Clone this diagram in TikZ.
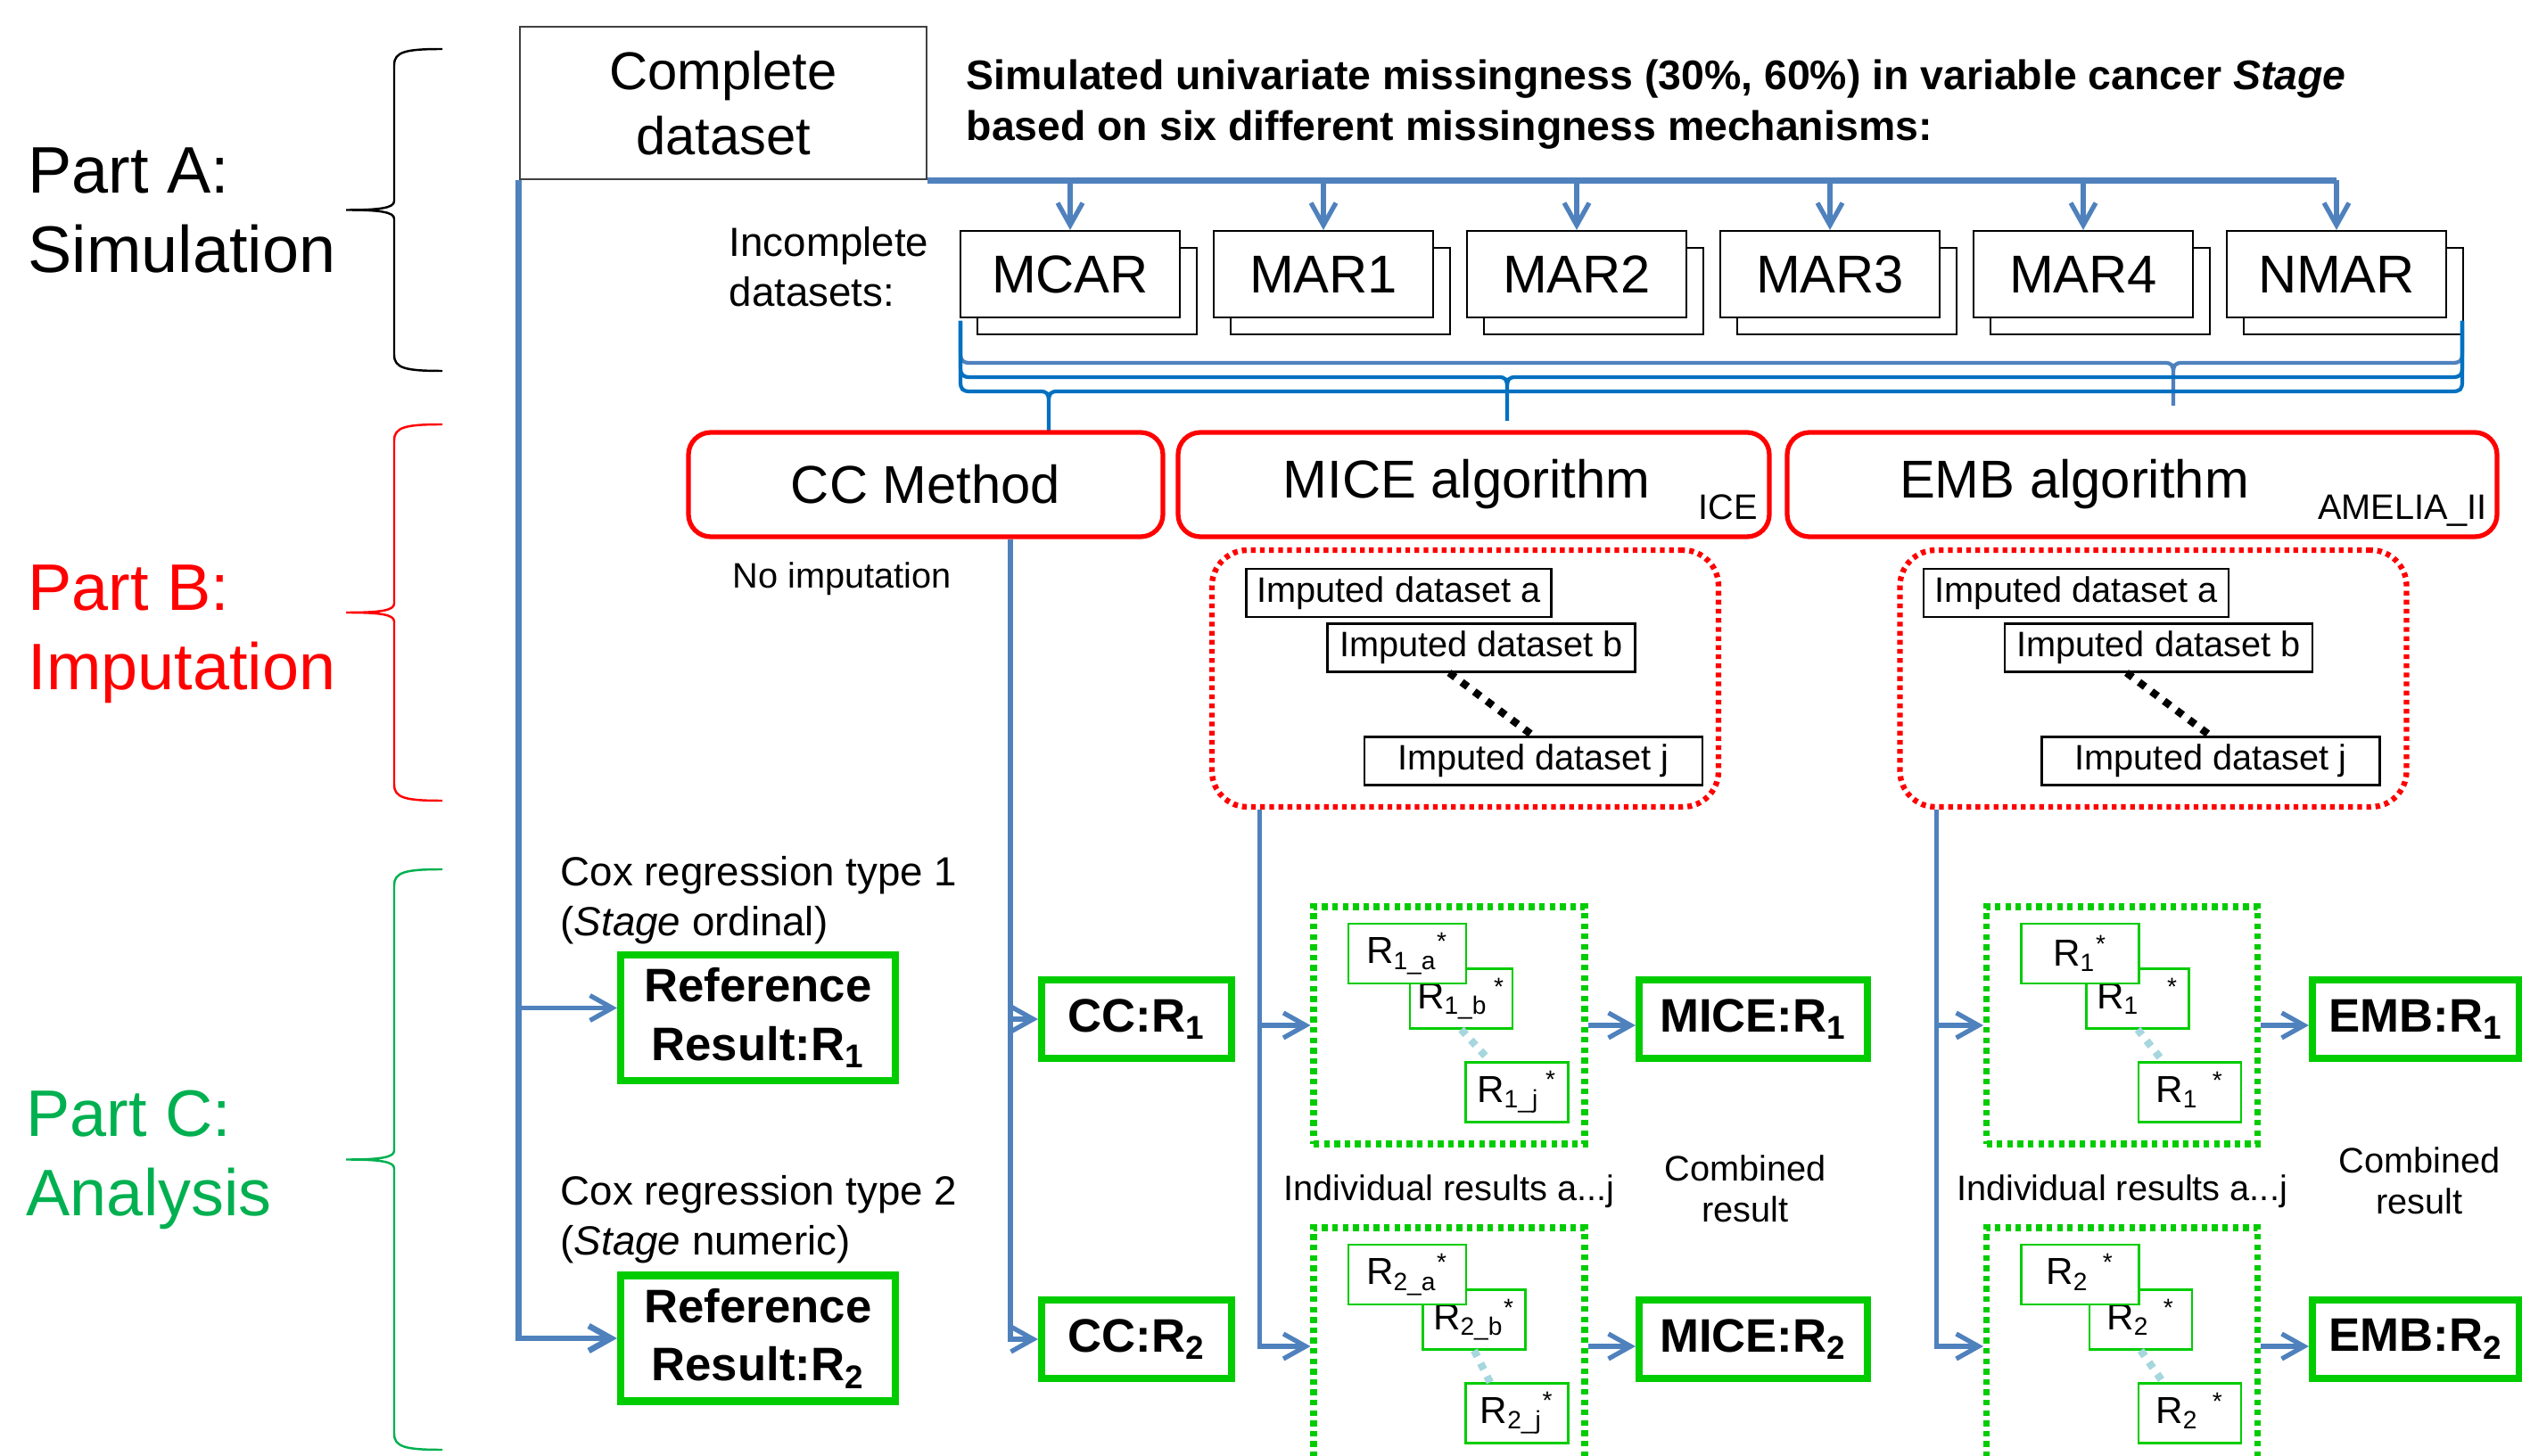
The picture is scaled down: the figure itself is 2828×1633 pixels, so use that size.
\documentclass[tikz,border=0pt]{standalone}
\usepackage{fontspec}
\setmainfont{Liberation Sans}
\usepackage{tikz}
\usetikzlibrary{arrows.meta,shadows,calc}
\definecolor{linkblue}{RGB}{79,129,189}
\definecolor{braceblue}{RGB}{0,112,192}
\definecolor{boxgreen}{RGB}{0,204,0}
\definecolor{partgreen}{RGB}{0,176,80}
\definecolor{dotcyan}{RGB}{166,214,222}

\begin{document}
\begin{tikzpicture}[x=0.1mm, y=-0.1mm,
  setbox/.style={draw, line width=0.6pt, fill=white, inner sep=0pt, minimum width=24.6mm, minimum height=9.7mm, font=\fontsize{17}{20}\selectfont},
  method/.style={draw=red, line width=1.5pt, rounded corners=2.5mm, inner sep=0pt, minimum height=11.7mm, font=\fontsize{17}{20}\selectfont},
  impgroup/.style={draw=red, line width=1.8pt, dash pattern=on 1.5pt off 1.4pt, rounded corners=4mm, minimum width=56.8mm, minimum height=28.8mm},
  impbox/.style={draw, line width=0.6pt, fill=white, inner sep=0pt, minimum height=5.4mm, font=\fontsize{11.3}{13}\selectfont},
  resgroup/.style={draw=boxgreen, line width=2pt, dash pattern=on 1.8pt off 1.5pt, minimum width=30.4mm, minimum height=26.6mm},
  rbox/.style={draw=boxgreen, line width=0.6pt, fill=white, inner sep=0pt, minimum height=6.7mm, font=\fontsize{12}{14}\selectfont},
  resbox/.style={draw=boxgreen, line width=2.3pt, inner sep=0pt, minimum height=8.8mm, align=center, font=\bfseries\fontsize{15}{18.7}\selectfont},
  link/.style={draw=linkblue, line width=1.5pt, -{Straight Barb[length=2.5mm,width=2.8mm]}},
  bus/.style={draw=linkblue, line width=1.9pt},
  note/.style={inner sep=0pt, font=\fontsize{11.3}{13.1}\selectfont},
  part/.style={inner sep=0pt, anchor=north west, align=left, font=\fontsize{21}{25.3}\selectfont}
]
\useasboundingbox (0,0) rectangle (2828,1633);
\clip (0,0) rectangle (2828,1633);

\node[part, text=black] (parta) at (31,165) {Part A:\\Simulation};
\node[part, text=red] (partb) at (31,633) {Part B:\\Imputation};
\node[part, text=partgreen] (partc) at (29,1222) {Part C:\\Analysis};
\foreach \col/\ya/\yb in {black/55/416, red/476/898, partgreen/975/1626}
  \draw[\col, line width=0.7pt] (496,\ya) .. controls (455,\ya) and (442,\ya+3) .. (442,\ya+18) -- (442,{(\ya+\yb)/2-10}) .. controls (442,{(\ya+\yb)/2-2}) and (425,{(\ya+\yb)/2}) .. (388,{(\ya+\yb)/2}) .. controls (425,{(\ya+\yb)/2}) and (442,{(\ya+\yb)/2+2}) .. (442,{(\ya+\yb)/2+10}) -- (442,\yb-18) .. controls (442,\yb-3) and (455,\yb) .. (496,\yb);

\node[draw=black!75, line width=0.7pt, minimum width=45.6mm, minimum height=17.1mm, inner sep=0pt, align=center, font=\fontsize{17}{20.8}\selectfont] (complete) at (811,115.5) {Complete\\dataset};
\node[inner sep=0pt, anchor=north west, align=left, font=\bfseries\fontsize{13.2}{16.2}\selectfont] (missing) at (1083,66) {Simulated univariate missingness (30\%, 60\%) in variable cancer \textit{Stage}\\based on six different missingness mechanisms:};
\node[inner sep=0pt, anchor=north west, align=left, font=\fontsize{13}{15.9}\selectfont] (incomplete) at (817,254) {Incomplete\\datasets:};

\foreach \n [count=\i from 0] in {MCAR,MAR1,MAR2,MAR3,MAR4,NMAR}
  \node[setbox, copy shadow={shadow xshift=1.9mm, shadow yshift=-1.9mm}] (\n) at (1200+\i*284,307.5) {\n};
\draw[bus] (complete.south east) -- (complete.south east -| NMAR.north);
\foreach \n in {MCAR,MAR1,MAR2,MAR3,MAR4,NMAR}
  \draw[link] (complete.south east -| \n.north) -- (\n.north);

\foreach \y/\tx/\ty/\col in {407/2437/455/linkblue, 423/1690/472/braceblue, 439/1176/487/braceblue}
  \draw[\col, line width=1.2pt] (1077,360) -- (1077,\y-12) .. controls (1077,\y-2) and (1079,\y) .. (1089,\y) -- (\tx-10,\y) .. controls (\tx-2,\y) and (\tx,\y+2) .. (\tx,\y+12) -- (\tx,\ty) -- (\tx,\y+12) .. controls (\tx,\y+2) and (\tx+2,\y) .. (\tx+10,\y) -- (2749,\y) .. controls (2759,\y) and (2761,\y-2) .. (2761,\y-12) -- (2761,360);

\node[method, minimum width=53.2mm] (cc) at (1038,543.5) {CC Method};
\node[method, minimum width=66.3mm] (mice) at (1652.5,543.5) {MICE algorithm\rule{1.6mm}{0pt}};
\node[method, minimum width=79.6mm] (emb) at (2402,543.5) {EMB algorithm\rule{15.2mm}{0pt}};
\node[note, anchor=base east] (ice) at ([xshift=-1.5mm,yshift=2.2mm]mice.south east) {ICE};
\node[note, anchor=base east] (amelia) at ([xshift=-1.3mm,yshift=2.2mm]emb.south east) {AMELIA\_II};
\node[note, anchor=base west] (noimp) at (821,660) {No imputation};

\node[impgroup] (micegrp) at (1643,761) {};
\node[impgroup] (embgrp) at (2414.5,761) {};
\foreach \g/\x in {mice/1568.5, emb/2328} {
  \node[impbox, minimum width=34.2mm] (\g-a) at (\x,665) {Imputed dataset a};
  \node[impbox, minimum width=34.5mm] (\g-b) at (\x+92.5,726.5) {Imputed dataset b};
  \node[impbox, minimum width=37.9mm] (\g-j) at (\x+151,853.5) {Imputed dataset j};
  \draw[black, line width=2.4pt, dash pattern=on 2.4pt off 2.6pt] ([xshift=-3.6mm]\g-b.south) -- (\g-j.north);
}
\coordinate (ccdrop) at ([xshift=9.5mm]cc.south);
\coordinate (micedrop) at ([xshift=5.7mm]micegrp.south west);
\coordinate (embdrop) at ([xshift=4.4mm]embgrp.south west);

\node[inner sep=0pt, anchor=north west, align=left, font=\fontsize{13}{15.9}\selectfont] (cox1) at (628,960) {Cox regression type 1\\(\textit{Stage} ordinal)};
\node[inner sep=0pt, anchor=north west, align=left, font=\fontsize{13}{15.9}\selectfont] (cox2) at (628,1318) {Cox regression type 2\\(\textit{Stage} numeric)};
\node[resbox, minimum width=30.8mm, minimum height=14.1mm] (ref1) at (850,1141.5) {Reference\\Result:R\textsubscript{1}};
\node[resbox, minimum width=30.8mm, minimum height=14.1mm] (ref2) at (850,1501) {Reference\\Result:R\textsubscript{2}};
\foreach \n/\lab/\x/\w in {ccr/CC/1274.5/21.3, micer/MICE/1966/25.6, embr/EMB/2709/23.2} {
  \node[resbox, minimum width=\w mm] (\n1) at (\x,1143) {\lab:R\textsubscript{1}};
  \node[resbox, minimum width=\w mm] (\n2) at (\x,1502) {\lab:R\textsubscript{2}};
}

\foreach \g/\x/\y in {mr1/1625/1150, mr2/1625/1510, er1/2379.5/1150, er2/2379.5/1510}
  \node[resgroup] (\g) at (\x,\y) {};
\foreach \g/\bx/\ra/\rb/\rj in {
  mr1/13.5/{R\textsubscript{1\_a}\textsuperscript{*}}/{R\textsubscript{1\_b}\,\textsuperscript{*}}/{R\textsubscript{1\_j}\,\textsuperscript{*}},
  mr2/28/{R\textsubscript{2\_a}\textsuperscript{*}}/{R\textsubscript{2\_b}\textsuperscript{*}}/{R\textsubscript{2\_j}\textsuperscript{*}},
  er1/17.5/{R\textsubscript{1}\textsuperscript{*}}/{R\textsubscript{1\phantom{\_b}}\textsuperscript{*}}/{R\textsubscript{1\phantom{\_}}\textsuperscript{*}},
  er2/21/{R\textsubscript{2\phantom{\_}}\textsuperscript{*}}/{R\textsubscript{2\phantom{\_}}\textsuperscript{*}}/{R\textsubscript{2\phantom{\_}}\textsuperscript{*}}}{
  \node[rbox, minimum width=11.5mm] (\g-b) at ($(\g)+(\bx,-30)$) {\rb};
  \node[rbox, minimum width=13.2mm] (\g-a) at ($(\g)+(-47,-80.5)$) {\ra};
  \node[rbox, minimum width=11.5mm] (\g-j) at ($(\g)+(76,75)$) {\rj};
  \draw[dotcyan, line width=2.4pt, dash pattern=on 2.2pt off 2.4pt] (\g-b.south) -- ([xshift=-3mm]\g-j.north);
}

\draw[link, line width=1.9pt] (complete.south west) |- (ref2.west);
\draw[link] ([yshift=1.1mm]complete.south west |- ref1.west) -- ([yshift=1.1mm]ref1.west);
\draw[link] (ccdrop) |- (ccr2.west);
\draw[link] (ccdrop |- ccr1.west) -- (ccr1.west);
\draw[link] (micedrop) |- (mr2.west);
\draw[link] (micedrop |- mr1.west) -- (mr1.west);
\draw[link] (embdrop) |- (er2.west);
\draw[link] (embdrop |- er1.west) -- (er1.west);
\draw[link] (mr1.east) -- (mr1.east -| micer1.west);
\draw[link] (mr2.east) -- (mr2.east -| micer2.west);
\draw[link] (er1.east) -- (er1.east -| embr1.west);
\draw[link] (er2.east) -- (er2.east -| embr2.west);

\node[note, anchor=base] (mind) at ([yshift=-6mm]mr1.south) {Individual results a...j};
\node[note, anchor=base] (eind) at ([yshift=-6mm]er1.south) {Individual results a...j};
\node[note, align=center, anchor=north] (mcomb) at (1957,1295) {Combined\\result};
\node[note, align=center, anchor=north] (ecomb) at (2713,1286) {Combined\\result};
\end{tikzpicture}
\end{document}
